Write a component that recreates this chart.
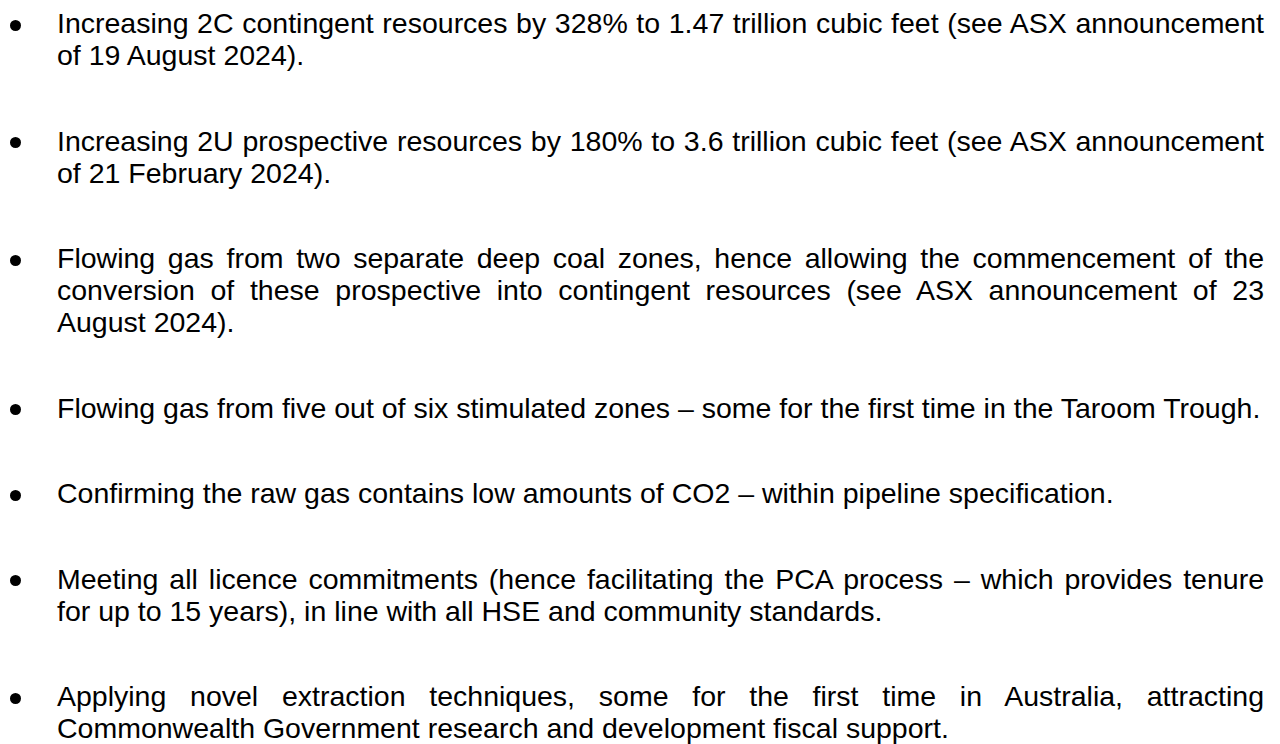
import React from "react";

// Content of the reference: a bulleted list (no chart marks present).
const bullet1: string[] = [
  "Increasing 2C contingent resources by 328% to 1.47 trillion cubic feet (see ASX announcement",
  "of 19 August 2024).",
];
const bullet2: string[] = [
  "Increasing 2U prospective resources by 180% to 3.6 trillion cubic feet (see ASX announcement",
  "of 21 February 2024).",
];
const bullet3: string[] = [
  "Flowing gas from two separate deep coal zones, hence allowing the commencement of the",
  "conversion of these prospective into contingent resources (see ASX announcement of 23",
  "August 2024).",
];
const bullet4: string[] = [
  "Flowing gas from five out of six stimulated zones – some for the first time in the Taroom Trough.",
];
const bullet5: string[] = [
  "Confirming the raw gas contains low amounts of CO2 – within pipeline specification.",
];
const bullet6: string[] = [
  "Meeting all licence commitments (hence facilitating the PCA process – which provides tenure",
  "for up to 15 years), in line with all HSE and community standards.",
];
const bullet7: string[] = [
  "Applying novel extraction techniques, some for the first time in Australia, attracting",
  "Commonwealth Government research and development fiscal support.",
];
const bullets: string[][] = [bullet1, bullet2, bullet3, bullet4, bullet5, bullet6, bullet7];

const FONT = '"Liberation Sans", Arial, Helvetica, sans-serif';
const FONT_SIZE = 28.5;
const LINE_H = 32;
const PARA_GAP = 53.5;
const TEXT_LEFT = 57;
const TEXT_WIDTH = 1207;

export default function App() {
  return (
    <div
      style={{
        position: "absolute",
        left: 0,
        top: 0,
        width: 1280,
        height: 744,
        background: "#ffffff",
        overflow: "hidden",
        fontFamily: FONT,
        fontSize: FONT_SIZE,
        lineHeight: LINE_H + "px",
        color: "#000000",
      }}
    >
      <div style={{ paddingTop: 7.2 }}>
        {bullets.map((lines, i) => (
          <div key={i} style={{ position: "relative", marginBottom: PARA_GAP }}>
            <div
              style={{
                position: "absolute",
                left: 9.5,
                top: 26 - 8 - 5.5,
                width: 11,
                height: 11,
                borderRadius: "50%",
                background: "#000000",
              }}
            />
            {lines.map((ln, j) => {
              const last = j === lines.length - 1;
              return (
                <div
                  key={j}
                  style={{
                    marginLeft: TEXT_LEFT,
                    width: TEXT_WIDTH,
                    height: LINE_H,
                    textAlign: last ? "left" : "justify",
                    textAlignLast: last ? "left" : "justify",
                    whiteSpace: last ? "nowrap" : "normal",
                  }}
                >
                  {ln}
                </div>
              );
            })}
          </div>
        ))}
      </div>
    </div>
  );
}
